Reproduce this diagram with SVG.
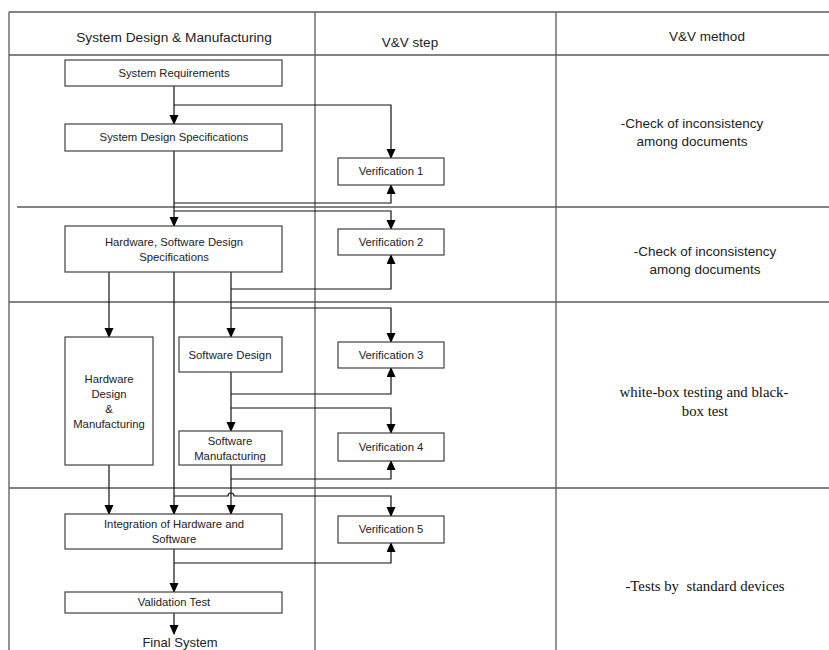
<svg xmlns="http://www.w3.org/2000/svg" width="829" height="650" viewBox="0 0 829 650">
<style>
.grid{stroke:#5a5a5a;stroke-width:1.3;fill:none}
.box{fill:#fff;stroke:#404040;stroke-width:1.2}
.t{font-family:"Liberation Sans",Arial,sans-serif;font-size:11.3px;fill:#222;text-anchor:middle}
.h{font-family:"Liberation Sans",Arial,sans-serif;font-size:13.7px;fill:#222;text-anchor:middle}
.m{font-family:"Liberation Sans",Arial,sans-serif;font-size:13.5px;fill:#222;text-anchor:middle}
.s{font-family:"Liberation Serif","Times New Roman",serif;font-size:14.8px;fill:#111;text-anchor:middle;white-space:pre}
.c{stroke:#111;stroke-width:1.2;fill:none}
</style>
<defs>
<marker id="ar" markerWidth="10" markerHeight="10" refX="9" refY="4.5" orient="auto" markerUnits="userSpaceOnUse">
<path d="M0,0 L10,4.5 L0,9 Z" fill="#000"/>
</marker>
</defs>
<rect width="829" height="650" fill="#fff"/>
<g id="table">
<line class="grid" x1="9" y1="12" x2="829" y2="12"/>
<line class="grid" x1="9" y1="55" x2="829" y2="55"/>
<line class="grid" x1="17" y1="207" x2="829" y2="207"/>
<line class="grid" x1="9" y1="302" x2="829" y2="302"/>
<line class="grid" x1="9" y1="488" x2="829" y2="488"/>
<line class="grid" x1="9" y1="12" x2="9" y2="650"/>
<line class="grid" x1="315" y1="12" x2="315" y2="650"/>
<line class="grid" x1="556" y1="12" x2="556" y2="650"/>
<text class="h" x="174" y="42">System Design &amp; Manufacturing</text>
<text class="m" x="410" y="47">V&amp;V step</text>
<text class="m" x="707" y="41">V&amp;V method</text>
<text class="m" x="692" y="128">-Check of inconsistency</text>
<text class="m" x="692" y="146">among documents</text>
<text class="m" x="705" y="256">-Check of inconsistency</text>
<text class="m" x="705" y="274">among documents</text>
<text class="s" x="704" y="397">white-box testing and black-</text>
<text class="s" x="705" y="416">box test</text>
<text class="s" x="705" y="591">-Tests by  standard devices</text>
</g>
<g id="connectors">
<path class="c" d="M174,86 V124" marker-end="url(#ar)"/>
<path class="c" d="M174,105 H391 V158" marker-end="url(#ar)"/>
<path class="c" d="M174,151 V226" marker-end="url(#ar)"/>
<path class="c" d="M174,203 H391 V185" marker-end="url(#ar)"/>
<path class="c" d="M174,211 H391 V229" marker-end="url(#ar)"/>
<path class="c" d="M109,272 V337" marker-end="url(#ar)"/>
<path class="c" d="M174,272 V514" marker-end="url(#ar)"/>
<path class="c" d="M231,272 V337" marker-end="url(#ar)"/>
<path class="c" d="M231,289 H391 V255" marker-end="url(#ar)"/>
<path class="c" d="M231,308 H391 V342" marker-end="url(#ar)"/>
<path class="c" d="M231,372 V431" marker-end="url(#ar)"/>
<path class="c" d="M231,394 H391 V368" marker-end="url(#ar)"/>
<path class="c" d="M231,408 H391 V433" marker-end="url(#ar)"/>
<path class="c" d="M231,465 V514" marker-end="url(#ar)"/>
<path class="c" d="M231,479 H391 V461" marker-end="url(#ar)"/>
<path class="c" d="M174,496 H228 A3,3 0 0 1 234,496 H391 V516" marker-end="url(#ar)"/>
<path class="c" d="M109,465 V514" marker-end="url(#ar)"/>
<path class="c" d="M174,549 V592" marker-end="url(#ar)"/>
<path class="c" d="M174,563 H391 V543" marker-end="url(#ar)"/>
<path class="c" d="M174,613 V634" marker-end="url(#ar)"/>
</g>
<g id="n-sysreq"><rect class="box" x="65" y="60" width="217" height="26"/><text class="t" x="174" y="77">System Requirements</text></g>
<g id="n-sysdesign"><rect class="box" x="65" y="124" width="217" height="27"/><text class="t" x="174" y="141">System Design Specifications</text></g>
<g id="n-ver1"><rect class="box" x="338" y="158" width="106" height="27"/><text class="t" x="391" y="175">Verification 1</text></g>
<g id="n-hwsw"><rect class="box" x="65" y="226" width="217" height="46"/><text class="t" x="174" y="246">Hardware, Software Design</text><text class="t" x="174" y="261">Specifications</text></g>
<g id="n-ver2"><rect class="box" x="338" y="229" width="106" height="26"/><text class="t" x="391" y="246">Verification 2</text></g>
<g id="n-hw"><rect class="box" x="65" y="337" width="88" height="128"/><text class="t" x="109" y="383">Hardware</text><text class="t" x="109" y="398">Design</text><text class="t" x="109" y="413">&amp;</text><text class="t" x="109" y="428">Manufacturing</text></g>
<g id="n-swdesign"><rect class="box" x="179" y="337" width="103" height="35"/><text class="t" x="230" y="359">Software Design</text></g>
<g id="n-ver3"><rect class="box" x="338" y="342" width="106" height="26"/><text class="t" x="391" y="359">Verification 3</text></g>
<g id="n-swmanu"><rect class="box" x="179" y="431" width="103" height="34"/><text class="t" x="230" y="445">Software</text><text class="t" x="230" y="460">Manufacturing</text></g>
<g id="n-ver4"><rect class="box" x="338" y="433" width="106" height="28"/><text class="t" x="391" y="451">Verification 4</text></g>
<g id="n-integ"><rect class="box" x="65" y="514" width="217" height="35"/><text class="t" x="174" y="528">Integration of Hardware and</text><text class="t" x="174" y="543">Software</text></g>
<g id="n-ver5"><rect class="box" x="338" y="516" width="106" height="27"/><text class="t" x="391" y="533">Verification 5</text></g>
<g id="n-valid"><rect class="box" x="65" y="592" width="217" height="21"/><text class="t" x="174" y="606">Validation Test</text></g>
<g id="n-final"><text class="m" x="180" y="647" style="font-size:13px">Final System</text></g>
</svg>
